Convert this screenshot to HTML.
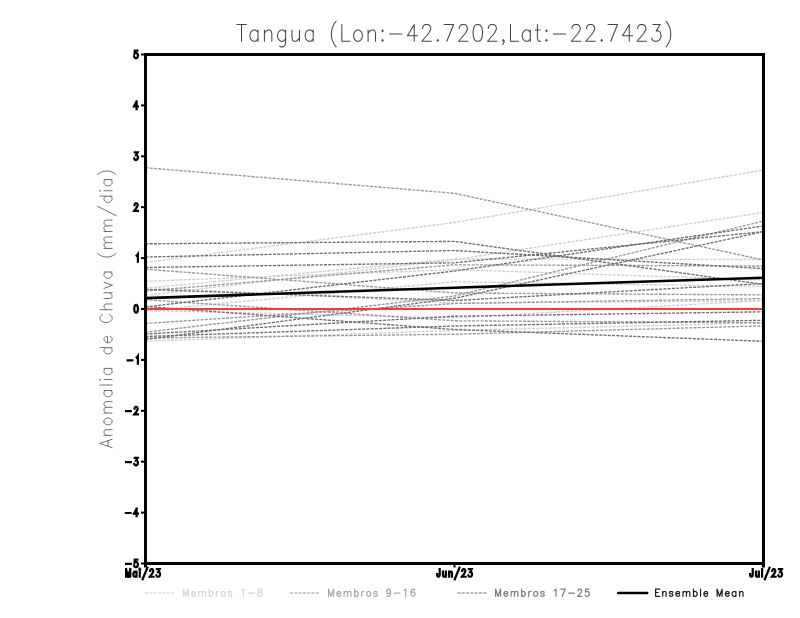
<!DOCTYPE html>
<html><head><meta charset="utf-8">
<style>
html,body{margin:0;padding:0;background:#fff;}
body{width:800px;height:618px;overflow:hidden;position:relative;font-family:"Liberation Sans",sans-serif;}
svg{position:absolute;left:0;top:0;}
</style></head><body>
<svg width="800" height="618" viewBox="0 0 800 618">
<g fill="none" stroke-width="1.35" stroke-dasharray="3 1.25">
<polyline points="145.5,262.4 454.5,222.5 763.5,170.1" stroke="#cfcfcf"/>
<polyline points="145.5,281.3 454.5,269.6 763.5,279.9" stroke="#cfcfcf"/>
<polyline points="145.5,295.2 454.5,259.7 763.5,212.4" stroke="#cfcfcf"/>
<polyline points="145.5,310.5 454.5,281.8 763.5,286.4" stroke="#cfcfcf"/>
<polyline points="145.5,341.2 454.5,330.5 763.5,322.8" stroke="#cfcfcf"/>
<polyline points="145.5,310.5 454.5,317.75 763.5,300.4" stroke="#cfcfcf"/>
<polyline points="145.5,287.3 454.5,303.0 763.5,300.9" stroke="#cfcfcf"/>
<polyline points="145.5,310.0 454.5,309.0 763.5,309.0" stroke="#cfcfcf"/>
<polyline points="145.5,288.2 454.5,259.0 763.5,259.5" stroke="#cfcfcf"/>
<polyline points="145.5,167.7 454.5,193.3 763.5,260.0" stroke="#989898"/>
<polyline points="145.5,269.2 454.5,293.0 763.5,294.9" stroke="#989898"/>
<polyline points="145.5,291.0 454.5,264.8 763.5,266.0" stroke="#989898"/>
<polyline points="145.5,299.7 454.5,320.75 763.5,322.8" stroke="#989898"/>
<polyline points="145.5,323.4 454.5,303.5 763.5,298.6" stroke="#989898"/>
<polyline points="145.5,332.2 454.5,296.0 763.5,221.1" stroke="#989898"/>
<polyline points="145.5,338.0 454.5,334.25 763.5,325.9" stroke="#989898"/>
<polyline points="145.5,243.8 454.5,241.4 763.5,284.4" stroke="#6e6e6e"/>
<polyline points="145.5,257.0 454.5,250.5 763.5,268.6" stroke="#6e6e6e"/>
<polyline points="145.5,267.5 454.5,262.8 763.5,231.6" stroke="#6e6e6e"/>
<polyline points="145.5,306.9 454.5,271.0 763.5,226.0" stroke="#6e6e6e"/>
<polyline points="145.5,289.4 454.5,300.5 763.5,283.5" stroke="#6e6e6e"/>
<polyline points="145.5,339.5 454.5,298.25 763.5,231.6" stroke="#6e6e6e"/>
<polyline points="145.5,306.5 454.5,329.5 763.5,341.3" stroke="#6e6e6e"/>
<polyline points="145.5,334.0 454.5,316.25 763.5,311.8" stroke="#6e6e6e"/>
<polyline points="145.5,336.5 454.5,326.0 763.5,320.3" stroke="#6e6e6e"/>
</g>
<line x1="145.5" y1="309" x2="763.5" y2="309" stroke="#fa3a3a" stroke-width="2"/>
<polyline points="145.5,298.1 454.5,287.7 763.5,277.7" fill="none" stroke="#000" stroke-width="2.6"/>
<rect x="145.5" y="54.5" width="618" height="509" fill="none" stroke="#000" stroke-width="3"/>
<g stroke="#000" stroke-width="2"><line x1="141" y1="54.5" x2="145" y2="54.5"/><line x1="141" y1="105.4" x2="145" y2="105.4"/><line x1="141" y1="156.3" x2="145" y2="156.3"/><line x1="141" y1="207.2" x2="145" y2="207.2"/><line x1="141" y1="258.1" x2="145" y2="258.1"/><line x1="141" y1="309.0" x2="145" y2="309.0"/><line x1="141" y1="359.9" x2="145" y2="359.9"/><line x1="141" y1="410.8" x2="145" y2="410.8"/><line x1="141" y1="461.7" x2="145" y2="461.7"/><line x1="141" y1="512.6" x2="145" y2="512.6"/><line x1="141" y1="563.5" x2="145" y2="563.5"/><line x1="454.5" y1="563" x2="454.5" y2="567.5"/><line x1="145.5" y1="563" x2="145.5" y2="567.5" stroke-width="3"/><line x1="763.5" y1="563" x2="763.5" y2="567.5" stroke-width="3"/></g>
<g stroke-width="1.1">
<line x1="145" y1="593" x2="175" y2="593" stroke="#cfcfcf" stroke-dasharray="3 1.3"/>
<line x1="290" y1="593" x2="320" y2="593" stroke="#989898" stroke-dasharray="3 1.3"/>
<line x1="457.5" y1="593" x2="487.5" y2="593" stroke="#6e6e6e" stroke-dasharray="3 1.3"/>
<line x1="618.2" y1="593.1" x2="647.2" y2="593.1" stroke="#000" stroke-width="2.5" stroke-linecap="round"/>
</g>
<path d="M241.53 24.45L241.53 41.25M236.80 24.45L246.25 24.45M258.03 30.05L258.03 41.25M258.03 32.45L256.68 30.85L255.33 30.05L253.30 30.05L251.95 30.85L250.60 32.45L249.93 34.85L249.93 36.45L250.60 38.85L251.95 40.45L253.30 41.25L255.33 41.25L256.68 40.45L258.03 38.85M264.41 30.05L264.41 41.25M264.41 33.25L266.43 30.85L267.78 30.05L269.81 30.05L271.16 30.85L271.83 33.25L271.83 41.25M285.63 30.05L285.63 42.85L284.96 45.25L284.28 46.05L282.93 46.85L280.91 46.85L279.56 46.05M285.63 32.45L284.28 30.85L282.93 30.05L280.91 30.05L279.56 30.85L278.21 32.45L277.53 34.85L277.53 36.45L278.21 38.85L279.56 40.45L280.91 41.25L282.93 41.25L284.28 40.45L285.63 38.85M292.01 30.05L292.01 38.05L292.69 40.45L294.04 41.25L296.06 41.25L297.41 40.45L299.44 38.05M299.44 30.05L299.44 41.25M313.24 30.05L313.24 41.25M313.24 32.45L311.89 30.85L310.54 30.05L308.52 30.05L307.17 30.85L305.82 32.45L305.14 34.85L305.14 36.45L305.82 38.85L307.17 40.45L308.52 41.25L310.54 41.25L311.89 40.45L313.24 38.85M336.12 21.25L334.77 22.85L333.42 25.25L332.07 28.45L331.40 32.45L331.40 35.65L332.07 39.65L333.42 42.85L334.77 45.25L336.12 46.85M341.82 24.45L341.82 41.25M341.82 41.25L349.92 41.25M356.98 30.05L355.63 30.85L354.28 32.45L353.60 34.85L353.60 36.45L354.28 38.85L355.63 40.45L356.98 41.25L359.00 41.25L360.35 40.45L361.70 38.85L362.38 36.45L362.38 34.85L361.70 32.45L360.35 30.85L359.00 30.05L356.98 30.05M368.08 30.05L368.08 41.25M368.08 33.25L370.11 30.85L371.46 30.05L373.48 30.05L374.83 30.85L375.51 33.25L375.51 41.25M382.56 30.05L381.88 30.85L382.56 31.65L383.23 30.85L382.56 30.05M382.56 39.65L381.88 40.45L382.56 41.25L383.23 40.45L382.56 39.65M389.61 34.05L401.76 34.05M414.21 24.45L407.46 35.65L417.59 35.65M414.21 24.45L414.21 41.25M422.62 28.45L422.62 27.65L423.29 26.05L423.97 25.25L425.32 24.45L428.02 24.45L429.37 25.25L430.04 26.05L430.72 27.65L430.72 29.25L430.04 30.85L428.69 33.25L421.94 41.25L431.39 41.25M437.77 39.65L437.10 40.45L437.77 41.25L438.45 40.45L437.77 39.65M453.60 24.45L446.85 41.25M444.15 24.45L453.60 24.45M459.30 28.45L459.30 27.65L459.98 26.05L460.65 25.25L462.00 24.45L464.70 24.45L466.05 25.25L466.73 26.05L467.40 27.65L467.40 29.25L466.73 30.85L465.38 33.25L458.63 41.25L468.08 41.25M477.15 24.45L475.13 25.25L473.78 27.65L473.10 31.65L473.10 34.05L473.78 38.05L475.13 40.45L477.15 41.25L478.50 41.25L480.53 40.45L481.88 38.05L482.55 34.05L482.55 31.65L481.88 27.65L480.53 25.25L478.50 24.45L477.15 24.45M488.26 28.45L488.26 27.65L488.93 26.05L489.61 25.25L490.96 24.45L493.66 24.45L495.01 25.25L495.68 26.05L496.36 27.65L496.36 29.25L495.68 30.85L494.33 33.25L487.58 41.25L497.03 41.25M504.09 40.45L503.41 41.25L502.74 40.45L503.41 39.65L504.09 40.45L504.09 42.05L503.41 43.65L502.74 44.45M510.46 24.45L510.46 41.25M510.46 41.25L518.56 41.25M530.34 30.05L530.34 41.25M530.34 32.45L528.99 30.85L527.64 30.05L525.62 30.05L524.27 30.85L522.92 32.45L522.24 34.85L522.24 36.45L522.92 38.85L524.27 40.45L525.62 41.25L527.64 41.25L528.99 40.45L530.34 38.85M537.39 24.45L537.39 38.05L538.07 40.45L539.42 41.25L540.77 41.25M535.37 30.05L540.09 30.05M546.47 30.05L545.80 30.85L546.47 31.65L547.15 30.85L546.47 30.05M546.47 39.65L545.80 40.45L546.47 41.25L547.15 40.45L546.47 39.65M553.53 34.05L565.68 34.05M572.05 28.45L572.05 27.65L572.73 26.05L573.40 25.25L574.75 24.45L577.45 24.45L578.80 25.25L579.48 26.05L580.15 27.65L580.15 29.25L579.48 30.85L578.13 33.25L571.38 41.25L580.83 41.25M586.53 28.45L586.53 27.65L587.21 26.05L587.88 25.25L589.23 24.45L591.93 24.45L593.28 25.25L593.96 26.05L594.63 27.65L594.63 29.25L593.96 30.85L592.61 33.25L585.86 41.25L595.31 41.25M601.68 39.65L601.01 40.45L601.68 41.25L602.36 40.45L601.68 39.65M617.51 24.45L610.76 41.25M608.06 24.45L617.51 24.45M629.29 24.45L622.54 35.65L632.67 35.65M629.29 24.45L629.29 41.25M637.69 28.45L637.69 27.65L638.37 26.05L639.04 25.25L640.39 24.45L643.09 24.45L644.44 25.25L645.12 26.05L645.79 27.65L645.79 29.25L645.12 30.85L643.77 33.25L637.02 41.25L646.47 41.25M652.85 24.45L660.27 24.45L656.22 30.85L658.25 30.85L659.60 31.65L660.27 32.45L660.95 34.85L660.95 36.45L660.27 38.85L658.92 40.45L656.90 41.25L654.87 41.25L652.85 40.45L652.17 39.65L651.50 38.05M665.98 21.25L667.33 22.85L668.68 25.25L670.03 28.45L670.70 32.45L670.70 35.65L670.03 39.65L668.68 42.85L667.33 45.25L665.98 46.85" stroke="#444" stroke-width="1.05" fill="none" stroke-linecap="round" stroke-linejoin="round"/>
<path d="M99.94 443.44L112.12 447.60M99.94 443.44L112.12 439.28M108.06 446.04L108.06 440.84M104.00 435.39L112.12 435.39M106.32 435.39L104.58 433.83L104.00 432.79L104.00 431.23L104.58 430.19L106.32 429.67L112.12 429.67M104.00 422.14L104.58 423.18L105.74 424.22L107.48 424.74L108.64 424.74L110.38 424.22L111.54 423.18L112.12 422.14L112.12 420.58L111.54 419.54L110.38 418.50L108.64 417.98L107.48 417.98L105.74 418.50L104.58 419.54L104.00 420.58L104.00 422.14M104.00 413.06L112.12 413.06M106.32 413.06L104.58 411.50L104.00 410.46L104.00 408.90L104.58 407.86L106.32 407.34L112.12 407.34M106.32 407.34L104.58 405.78L104.00 404.74L104.00 403.18L104.58 402.14L106.32 401.62L112.12 401.62M104.00 390.45L112.12 390.45M105.74 390.45L104.58 391.49L104.00 392.53L104.00 394.09L104.58 395.13L105.74 396.17L107.48 396.69L108.64 396.69L110.38 396.17L111.54 395.13L112.12 394.09L112.12 392.53L111.54 391.49L110.38 390.45M99.94 385.00L112.12 385.00M99.94 380.07L100.52 379.55L99.94 379.03L99.36 379.55L99.94 380.07M104.00 379.55L112.12 379.55M104.00 368.38L112.12 368.38M105.74 368.38L104.58 369.42L104.00 370.46L104.00 372.02L104.58 373.06L105.74 374.10L107.48 374.62L108.64 374.62L110.38 374.10L111.54 373.06L112.12 372.02L112.12 370.46L111.54 369.42L110.38 368.38M99.94 347.61L112.12 347.61M105.74 347.61L104.58 348.65L104.00 349.69L104.00 351.25L104.58 352.29L105.74 353.33L107.48 353.85L108.64 353.85L110.38 353.33L111.54 352.29L112.12 351.25L112.12 349.69L111.54 348.65L110.38 347.61M107.48 342.68L107.48 336.44L106.32 336.44L105.16 336.96L104.58 337.48L104.00 338.52L104.00 340.08L104.58 341.12L105.74 342.16L107.48 342.68L108.64 342.68L110.38 342.16L111.54 341.12L112.12 340.08L112.12 338.52L111.54 337.48L110.38 336.44M102.84 314.62L101.68 315.14L100.52 316.18L99.94 317.22L99.94 319.30L100.52 320.34L101.68 321.38L102.84 321.90L104.58 322.42L107.48 322.42L109.22 321.90L110.38 321.38L111.54 320.34L112.12 319.30L112.12 317.22L111.54 316.18L110.38 315.14L109.22 314.62M99.94 309.70L112.12 309.70M106.32 309.70L104.58 308.14L104.00 307.10L104.00 305.54L104.58 304.50L106.32 303.98L112.12 303.98M104.00 298.53L109.80 298.53L111.54 298.01L112.12 296.97L112.12 295.41L111.54 294.37L109.80 292.81M104.00 292.81L112.12 292.81M104.00 288.40L112.12 285.28M104.00 282.16L112.12 285.28M104.00 272.03L112.12 272.03M105.74 272.03L104.58 273.07L104.00 274.11L104.00 275.67L104.58 276.71L105.74 277.75L107.48 278.27L108.64 278.27L110.38 277.75L111.54 276.71L112.12 275.67L112.12 274.11L111.54 273.07L110.38 272.03M97.62 253.34L98.78 254.38L100.52 255.42L102.84 256.46L105.74 256.98L108.06 256.98L110.96 256.46L113.28 255.42L115.02 254.38L116.18 253.34M104.00 248.41L112.12 248.41M106.32 248.41L104.58 246.85L104.00 245.81L104.00 244.25L104.58 243.21L106.32 242.69L112.12 242.69M106.32 242.69L104.58 241.13L104.00 240.09L104.00 238.53L104.58 237.49L106.32 236.97L112.12 236.97M104.00 231.52L112.12 231.52M106.32 231.52L104.58 229.96L104.00 228.92L104.00 227.36L104.58 226.32L106.32 225.80L112.12 225.80M106.32 225.80L104.58 224.24L104.00 223.20L104.00 221.64L104.58 220.60L106.32 220.08L112.12 220.08M97.62 206.31L116.18 215.67M99.94 196.18L112.12 196.18M105.74 196.18L104.58 197.22L104.00 198.26L104.00 199.82L104.58 200.86L105.74 201.90L107.48 202.42L108.64 202.42L110.38 201.90L111.54 200.86L112.12 199.82L112.12 198.26L111.54 197.22L110.38 196.18M99.94 191.26L100.52 190.74L99.94 190.22L99.36 190.74L99.94 191.26M104.00 190.74L112.12 190.74M104.00 179.57L112.12 179.57M105.74 179.57L104.58 180.61L104.00 181.65L104.00 183.21L104.58 184.25L105.74 185.29L107.48 185.81L108.64 185.81L110.38 185.29L111.54 184.25L112.12 183.21L112.12 181.65L111.54 180.61L110.38 179.57M97.62 174.64L98.78 173.60L100.52 172.56L102.84 171.52L105.74 171.00L108.06 171.00L110.96 171.52L113.28 172.56L115.02 173.60L116.18 174.64" stroke="#707070" stroke-width="1.0" fill="none" stroke-linecap="round" stroke-linejoin="round"/>
<path d="M137.38 50.58L134.78 50.58L134.52 53.82L134.78 53.46L135.56 53.10L136.34 53.10L137.12 53.46L137.64 54.18L137.90 55.26L137.90 55.98L137.64 57.06L137.12 57.78L136.34 58.14L135.56 58.14L134.78 57.78L134.52 57.42L134.26 56.70M136.60 101.48L134.00 106.52L137.90 106.52M136.60 101.48L136.60 109.04M134.78 152.38L137.64 152.38L136.08 155.26L136.86 155.26L137.38 155.62L137.64 155.98L137.90 157.06L137.90 157.78L137.64 158.86L137.12 159.58L136.34 159.94L135.56 159.94L134.78 159.58L134.52 159.22L134.26 158.50M134.52 205.08L134.52 204.72L134.78 204.00L135.04 203.64L135.56 203.28L136.60 203.28L137.12 203.64L137.38 204.00L137.64 204.72L137.64 205.44L137.38 206.16L136.86 207.24L134.26 210.84L137.90 210.84M136.60 255.62L137.12 255.26L137.90 254.18L137.90 261.74M135.82 305.08L135.04 305.44L134.52 306.52L134.26 308.32L134.26 309.40L134.52 311.20L135.04 312.28L135.82 312.64L136.34 312.64L137.12 312.28L137.64 311.20L137.90 309.40L137.90 308.32L137.64 306.52L137.12 305.44L136.34 305.08L135.82 305.08M127.66 360.30L132.34 360.30M136.60 357.42L137.12 357.06L137.90 355.98L137.90 363.54M126.10 411.20L130.78 411.20M134.52 408.68L134.52 408.32L134.78 407.60L135.04 407.24L135.56 406.88L136.60 406.88L137.12 407.24L137.38 407.60L137.64 408.32L137.64 409.04L137.38 409.76L136.86 410.84L134.26 414.44L137.90 414.44M126.10 462.10L130.78 462.10M134.78 457.78L137.64 457.78L136.08 460.66L136.86 460.66L137.38 461.02L137.64 461.38L137.90 462.46L137.90 463.18L137.64 464.26L137.12 464.98L136.34 465.34L135.56 465.34L134.78 464.98L134.52 464.62L134.26 463.90M125.84 513.00L130.52 513.00M136.60 508.68L134.00 513.72L137.90 513.72M136.60 508.68L136.60 516.24M126.10 563.90L130.78 563.90M137.38 559.58L134.78 559.58L134.52 562.82L134.78 562.46L135.56 562.10L136.34 562.10L137.12 562.46L137.64 563.18L137.90 564.26L137.90 564.98L137.64 566.06L137.12 566.78L136.34 567.14L135.56 567.14L134.78 566.78L134.52 566.42L134.26 565.70M126.10 569.18L126.10 576.74M126.10 569.18L128.18 576.74M130.26 569.18L128.18 576.74M130.26 569.18L130.26 576.74M136.47 571.70L136.47 576.74M136.47 572.78L135.95 572.06L135.43 571.70L134.65 571.70L134.13 572.06L133.61 572.78L133.35 573.86L133.35 574.58L133.61 575.66L134.13 576.38L134.65 576.74L135.43 576.74L135.95 576.38L136.47 575.66M139.56 569.18L139.82 569.54L140.08 569.18L139.82 568.82L139.56 569.18M139.82 571.70L139.82 576.74M147.32 567.74L142.64 579.26M150.15 570.98L150.15 570.62L150.41 569.90L150.67 569.54L151.19 569.18L152.23 569.18L152.75 569.54L153.01 569.90L153.27 570.62L153.27 571.34L153.01 572.06L152.49 573.14L149.89 576.74L153.53 576.74M156.88 569.18L159.74 569.18L158.18 572.06L158.96 572.06L159.48 572.42L159.74 572.78L160.00 573.86L160.00 574.58L159.74 575.66L159.22 576.38L158.44 576.74L157.66 576.74L156.88 576.38L156.62 576.02L156.36 575.30M439.70 569.18L439.70 574.94L439.44 576.02L439.18 576.38L438.66 576.74L438.14 576.74L437.62 576.38L437.36 576.02L437.10 574.94L437.10 574.22M442.99 571.70L442.99 575.30L443.25 576.38L443.77 576.74L444.55 576.74L445.07 576.38L445.85 575.30M445.85 571.70L445.85 576.74M449.14 571.70L449.14 576.74M449.14 573.14L449.92 572.06L450.44 571.70L451.22 571.70L451.74 572.06L452.00 573.14L452.00 576.74M459.44 567.74L454.76 579.26M462.21 570.98L462.21 570.62L462.47 569.90L462.73 569.54L463.25 569.18L464.29 569.18L464.81 569.54L465.07 569.90L465.33 570.62L465.33 571.34L465.07 572.06L464.55 573.14L461.95 576.74L465.59 576.74M468.88 569.18L471.74 569.18L470.18 572.06L470.96 572.06L471.48 572.42L471.74 572.78L472.00 573.86L472.00 574.58L471.74 575.66L471.22 576.38L470.44 576.74L469.66 576.74L468.88 576.38L468.62 576.02L468.36 575.30M752.70 569.18L752.70 574.94L752.44 576.02L752.18 576.38L751.66 576.74L751.14 576.74L750.62 576.38L750.36 576.02L750.10 574.94L750.10 574.22M755.96 571.70L755.96 575.30L756.22 576.38L756.74 576.74L757.52 576.74L758.04 576.38L758.82 575.30M758.82 571.70L758.82 576.74M762.08 569.18L762.08 576.74M769.50 567.74L764.82 579.26M772.24 570.98L772.24 570.62L772.50 569.90L772.76 569.54L773.28 569.18L774.32 569.18L774.84 569.54L775.10 569.90L775.36 570.62L775.36 571.34L775.10 572.06L774.58 573.14L771.98 576.74L775.62 576.74M778.88 569.18L781.74 569.18L780.18 572.06L780.96 572.06L781.48 572.42L781.74 572.78L782.00 573.86L782.00 574.58L781.74 575.66L781.22 576.38L780.44 576.74L779.66 576.74L778.88 576.38L778.62 576.02L778.36 575.30" stroke="#000" stroke-width="2.2" fill="none" stroke-linecap="square" stroke-linejoin="miter"/>
<path d="M183.30 589.08L183.30 596.29M183.30 589.08L185.78 596.29M188.26 589.08L185.78 596.29M188.26 589.08L188.26 596.29M191.63 593.54L195.35 593.54L195.35 592.86L195.04 592.17L194.73 591.83L194.11 591.49L193.18 591.49L192.56 591.83L191.94 592.51L191.63 593.54L191.63 594.23L191.94 595.26L192.56 595.94L193.18 596.29L194.11 596.29L194.73 595.94L195.35 595.26M198.73 591.49L198.73 596.29M198.73 592.86L199.66 591.83L200.28 591.49L201.21 591.49L201.83 591.83L202.14 592.86L202.14 596.29M202.14 592.86L203.07 591.83L203.69 591.49L204.62 591.49L205.24 591.83L205.55 592.86L205.55 596.29M209.23 589.08L209.23 596.29M209.23 592.51L209.85 591.83L210.47 591.49L211.40 591.49L212.02 591.83L212.64 592.51L212.95 593.54L212.95 594.23L212.64 595.26L212.02 595.94L211.40 596.29L210.47 596.29L209.85 595.94L209.23 595.26M216.33 591.49L216.33 596.29M216.33 593.54L216.64 592.51L217.26 591.83L217.88 591.49L218.81 591.49M222.80 591.49L222.18 591.83L221.56 592.51L221.25 593.54L221.25 594.23L221.56 595.26L222.18 595.94L222.80 596.29L223.73 596.29L224.35 595.94L224.97 595.26L225.28 594.23L225.28 593.54L224.97 592.51L224.35 591.83L223.73 591.49L222.80 591.49M231.76 592.51L231.45 591.83L230.52 591.49L229.59 591.49L228.66 591.83L228.35 592.51L228.66 593.20L229.28 593.54L230.83 593.89L231.45 594.23L231.76 594.92L231.76 595.26L231.45 595.94L230.52 596.29L229.59 596.29L228.66 595.94L228.35 595.26M241.92 590.46L242.54 590.11L243.47 589.08L243.47 596.29M248.71 593.20L254.28 593.20M259.21 589.08L258.28 589.43L257.97 590.11L257.97 590.80L258.28 591.49L258.90 591.83L260.14 592.17L261.07 592.51L261.69 593.20L262.00 593.89L262.00 594.92L261.69 595.60L261.38 595.94L260.45 596.29L259.21 596.29L258.28 595.94L257.97 595.60L257.66 594.92L257.66 593.89L257.97 593.20L258.59 592.51L259.52 592.17L260.76 591.83L261.38 591.49L261.69 590.80L261.69 590.11L261.38 589.43L260.45 589.08L259.21 589.08" stroke="#d6d6d6" stroke-width="1.2" fill="none" stroke-linecap="round" stroke-linejoin="round"/>
<path d="M328.60 589.08L328.60 596.29M328.60 589.08L331.08 596.29M333.56 589.08L331.08 596.29M333.56 589.08L333.56 596.29M336.96 593.54L340.68 593.54L340.68 592.86L340.37 592.17L340.06 591.83L339.44 591.49L338.51 591.49L337.89 591.83L337.27 592.51L336.96 593.54L336.96 594.23L337.27 595.26L337.89 595.94L338.51 596.29L339.44 596.29L340.06 595.94L340.68 595.26M344.08 591.49L344.08 596.29M344.08 592.86L345.01 591.83L345.63 591.49L346.56 591.49L347.18 591.83L347.49 592.86L347.49 596.29M347.49 592.86L348.42 591.83L349.04 591.49L349.97 591.49L350.59 591.83L350.90 592.86L350.90 596.29M354.62 589.08L354.62 596.29M354.62 592.51L355.24 591.83L355.86 591.49L356.79 591.49L357.41 591.83L358.03 592.51L358.34 593.54L358.34 594.23L358.03 595.26L357.41 595.94L356.79 596.29L355.86 596.29L355.24 595.94L354.62 595.26M361.74 591.49L361.74 596.29M361.74 593.54L362.05 592.51L362.67 591.83L363.29 591.49L364.22 591.49M368.24 591.49L367.62 591.83L367.00 592.51L366.69 593.54L366.69 594.23L367.00 595.26L367.62 595.94L368.24 596.29L369.17 596.29L369.79 595.94L370.41 595.26L370.72 594.23L370.72 593.54L370.41 592.51L369.79 591.83L369.17 591.49L368.24 591.49M377.22 592.51L376.91 591.83L375.98 591.49L375.05 591.49L374.12 591.83L373.81 592.51L374.12 593.20L374.74 593.54L376.29 593.89L376.91 594.23L377.22 594.92L377.22 595.26L376.91 595.94L375.98 596.29L375.05 596.29L374.12 595.94L373.81 595.26M390.53 591.49L390.22 592.51L389.60 593.20L388.67 593.54L388.36 593.54L387.43 593.20L386.81 592.51L386.50 591.49L386.50 591.14L386.81 590.11L387.43 589.43L388.36 589.08L388.67 589.08L389.60 589.43L390.22 590.11L390.53 591.49L390.53 593.20L390.22 594.92L389.60 595.94L388.67 596.29L388.05 596.29L387.12 595.94L386.81 595.26M394.25 593.20L399.83 593.20M404.16 590.46L404.78 590.11L405.71 589.08L405.71 596.29M414.69 590.11L414.38 589.43L413.45 589.08L412.83 589.08L411.90 589.43L411.28 590.46L410.97 592.17L410.97 593.89L411.28 595.26L411.90 595.94L412.83 596.29L413.14 596.29L414.07 595.94L414.69 595.26L415.00 594.23L415.00 593.89L414.69 592.86L414.07 592.17L413.14 591.83L412.83 591.83L411.90 592.17L411.28 592.86L410.97 593.89" stroke="#a6a6a6" stroke-width="1.2" fill="none" stroke-linecap="round" stroke-linejoin="round"/>
<path d="M495.60 589.08L495.60 596.29M495.60 589.08L498.08 596.29M500.56 589.08L498.08 596.29M500.56 589.08L500.56 596.29M503.96 593.54L507.68 593.54L507.68 592.86L507.37 592.17L507.06 591.83L506.44 591.49L505.51 591.49L504.89 591.83L504.27 592.51L503.96 593.54L503.96 594.23L504.27 595.26L504.89 595.94L505.51 596.29L506.44 596.29L507.06 595.94L507.68 595.26M511.08 591.49L511.08 596.29M511.08 592.86L512.01 591.83L512.63 591.49L513.56 591.49L514.18 591.83L514.49 592.86L514.49 596.29M514.49 592.86L515.42 591.83L516.04 591.49L516.97 591.49L517.59 591.83L517.90 592.86L517.90 596.29M521.61 589.08L521.61 596.29M521.61 592.51L522.23 591.83L522.85 591.49L523.78 591.49L524.40 591.83L525.02 592.51L525.33 593.54L525.33 594.23L525.02 595.26L524.40 595.94L523.78 596.29L522.85 596.29L522.23 595.94L521.61 595.26M528.73 591.49L528.73 596.29M528.73 593.54L529.04 592.51L529.66 591.83L530.28 591.49L531.21 591.49M535.23 591.49L534.61 591.83L533.99 592.51L533.68 593.54L533.68 594.23L533.99 595.26L534.61 595.94L535.23 596.29L536.16 596.29L536.78 595.94L537.40 595.26L537.71 594.23L537.71 593.54L537.40 592.51L536.78 591.83L536.16 591.49L535.23 591.49M544.21 592.51L543.89 591.83L542.97 591.49L542.04 591.49L541.11 591.83L540.80 592.51L541.11 593.20L541.73 593.54L543.27 593.89L543.89 594.23L544.21 594.92L544.21 595.26L543.89 595.94L542.97 596.29L542.04 596.29L541.11 595.94L540.80 595.26M554.41 590.46L555.03 590.11L555.96 589.08L555.96 596.29M565.25 589.08L562.15 596.29M560.91 589.08L565.25 589.08M568.65 593.20L574.23 593.20M577.94 590.80L577.94 590.46L578.25 589.77L578.56 589.43L579.18 589.08L580.42 589.08L581.04 589.43L581.35 589.77L581.66 590.46L581.66 591.14L581.35 591.83L580.73 592.86L577.63 596.29L581.97 596.29M588.78 589.08L585.68 589.08L585.37 592.17L585.68 591.83L586.61 591.49L587.54 591.49L588.47 591.83L589.09 592.51L589.40 593.54L589.40 594.23L589.09 595.26L588.47 595.94L587.54 596.29L586.61 596.29L585.68 595.94L585.37 595.60L585.06 594.92" stroke="#7c7c7c" stroke-width="1.2" fill="none" stroke-linecap="round" stroke-linejoin="round"/>
<path d="M655.60 589.08L655.60 596.29M655.60 589.08L659.63 589.08M655.60 592.51L658.08 592.51M655.60 596.29L659.63 596.29M662.68 591.49L662.68 596.29M662.68 592.86L663.61 591.83L664.23 591.49L665.16 591.49L665.78 591.83L666.09 592.86L666.09 596.29M672.85 592.51L672.54 591.83L671.61 591.49L670.68 591.49L669.75 591.83L669.44 592.51L669.75 593.20L670.37 593.54L671.92 593.89L672.54 594.23L672.85 594.92L672.85 595.26L672.54 595.94L671.61 596.29L670.68 596.29L669.75 595.94L669.44 595.26M675.90 593.54L679.62 593.54L679.62 592.86L679.31 592.17L679.00 591.83L678.38 591.49L677.45 591.49L676.83 591.83L676.21 592.51L675.90 593.54L675.90 594.23L676.21 595.26L676.83 595.94L677.45 596.29L678.38 596.29L679.00 595.94L679.62 595.26M682.98 591.49L682.98 596.29M682.98 592.86L683.91 591.83L684.53 591.49L685.46 591.49L686.08 591.83L686.39 592.86L686.39 596.29M686.39 592.86L687.32 591.83L687.94 591.49L688.87 591.49L689.49 591.83L689.80 592.86L689.80 596.29M693.46 589.08L693.46 596.29M693.46 592.51L694.08 591.83L694.70 591.49L695.63 591.49L696.25 591.83L696.87 592.51L697.18 593.54L697.18 594.23L696.87 595.26L696.25 595.94L695.63 596.29L694.70 596.29L694.08 595.94L693.46 595.26M700.54 589.08L700.54 596.29M703.90 593.54L707.62 593.54L707.62 592.86L707.31 592.17L707.00 591.83L706.38 591.49L705.45 591.49L704.83 591.83L704.21 592.51L703.90 593.54L703.90 594.23L704.21 595.26L704.83 595.94L705.45 596.29L706.38 596.29L707.00 595.94L707.62 595.26M717.12 589.08L717.12 596.29M717.12 589.08L719.60 596.29M722.08 589.08L719.60 596.29M722.08 589.08L722.08 596.29M725.44 593.54L729.16 593.54L729.16 592.86L728.85 592.17L728.54 591.83L727.92 591.49L726.99 591.49L726.37 591.83L725.75 592.51L725.44 593.54L725.44 594.23L725.75 595.26L726.37 595.94L726.99 596.29L727.92 596.29L728.54 595.94L729.16 595.26M735.92 591.49L735.92 596.29M735.92 592.51L735.30 591.83L734.68 591.49L733.75 591.49L733.13 591.83L732.51 592.51L732.20 593.54L732.20 594.23L732.51 595.26L733.13 595.94L733.75 596.29L734.68 596.29L735.30 595.94L735.92 595.26M739.59 591.49L739.59 596.29M739.59 592.86L740.52 591.83L741.14 591.49L742.07 591.49L742.69 591.83L743.00 592.86L743.00 596.29" stroke="#1a1a1a" stroke-width="1.2" fill="none" stroke-linecap="round" stroke-linejoin="round"/>
</svg>
</body></html>
